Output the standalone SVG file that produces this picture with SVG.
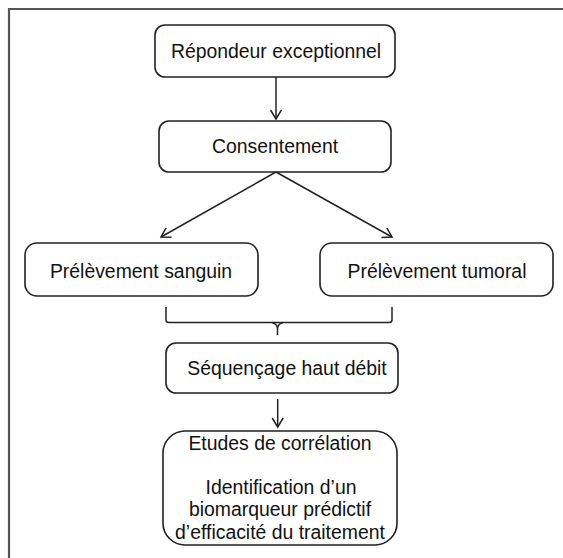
<svg xmlns="http://www.w3.org/2000/svg" width="563" height="558" viewBox="0 0 563 558">
  <defs>
    <marker id="arr" markerUnits="userSpaceOnUse" markerWidth="14" markerHeight="14" refX="10" refY="6" orient="auto">
      <path d="M1,0.5 L10,6 L1,11.5" fill="none" stroke="#222" stroke-width="1.5"/>
    </marker>
  </defs>
  <style>
    .box { fill: #fff; stroke: #222; stroke-width: 1.6; }
    .lbl { font-family: "Liberation Sans", Arial, sans-serif; font-size: 19.4px; fill: #111; text-anchor: middle; }
    .con { fill: none; stroke: #222; stroke-width: 1.5; }
  </style>
  <rect width="563" height="558" fill="#fff"/>
  <path d="M9,558 V9 H563" fill="none" stroke="#555" stroke-width="2.2"/>

  <g id="n1">
    <rect class="box" x="155" y="25" width="240" height="52" rx="10"/>
    <text class="lbl" x="276" y="58">Répondeur exceptionnel</text>
  </g>
  <g id="n2">
    <rect class="box" x="159" y="121" width="232" height="51" rx="10"/>
    <text class="lbl" x="275" y="153">Consentement</text>
  </g>
  <g id="n3">
    <rect class="box" x="25" y="243" width="233" height="53" rx="12"/>
    <text class="lbl" x="141" y="278">Prélèvement sanguin</text>
  </g>
  <g id="n4">
    <rect class="box" x="320" y="243" width="233" height="53" rx="12"/>
    <text class="lbl" x="437" y="278">Prélèvement tumoral</text>
  </g>
  <g id="n5">
    <rect class="box" x="166" y="343" width="232" height="50" rx="10"/>
    <text class="lbl" x="287" y="375">Séquençage haut débit</text>
  </g>
  <g id="n6">
    <rect class="box" x="163" y="431" width="234" height="114" rx="22"/>
    <text class="lbl" x="280" y="450">Etudes de corrélation</text>
    <text class="lbl" x="281" y="494">Identification d’un</text>
    <text class="lbl" x="280" y="516">biomarqueur prédictif</text>
    <text class="lbl" x="280" y="539">d’efficacité du traitement</text>
  </g>

  <g id="connectors">
    <path class="con" d="M276,77 V119" marker-end="url(#arr)"/>
    <path class="con" d="M276,172 L161,237" marker-end="url(#arr)"/>
    <path class="con" d="M276,172 L392,237" marker-end="url(#arr)"/>
    <path class="con" d="M166,307 V320 Q166,322.5 169,322.5 H389 Q392,322.5 392,320 V307"/>
    <path class="con" d="M272,322.5 Q277.5,324 277.5,329 V335 M283,322.5 Q277.5,324 277.5,329"/>
    <path class="con" d="M277.7,399 V427" marker-end="url(#arr)"/>
  </g>
</svg>
